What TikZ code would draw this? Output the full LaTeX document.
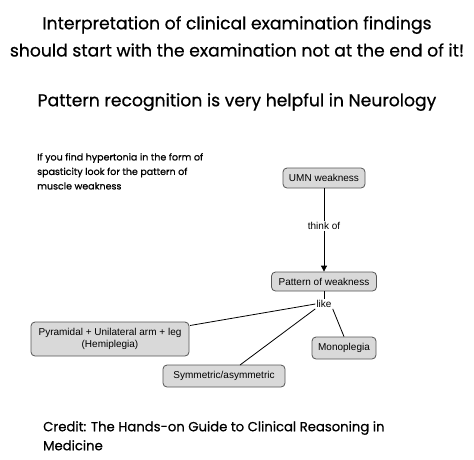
\documentclass[tikz,border=0pt]{standalone}
\usepackage{fontspec}
\setmainfont{Poppins}
\newfontfamily\hel{Liberation Sans}
\newfontfamily\popm[FakeBold=0.6]{Poppins}
\usetikzlibrary{arrows.meta}
\definecolor{boxfill}{HTML}{D9D9D9}
\definecolor{boxline}{HTML}{555555}
\begin{document}
\begin{tikzpicture}[x=1pt,y=-1pt,
  cbox/.style={draw=boxline, fill=boxfill, rounded corners=4pt, line width=0.8pt, font=\hel\fontsize{10}{12}\selectfont, inner sep=0pt, align=center},
  lbl/.style={font=\hel\fontsize{10}{12}\selectfont, fill=white, inner sep=1pt},
  title/.style={font=\popm\fontsize{17.2}{20}\selectfont},
  conn/.style={line width=0.8pt, black}]
\useasboundingbox (0,0) rectangle (474,459);
\fill[white] (0,0) rectangle (474,459);
\node[title] (t1) at (237,25) {Interpretation of clinical examination findings};
\node[title] (t2) at (237,50) {should start with the examination not at the end of it!};
\node[title] (t3) at (237,102) {Pattern recognition is very helpful in Neurology};
\node[anchor=north west, align=left, inner sep=0pt, font=\popm\fontsize{9.5}{14.5}\selectfont] (note) at (37,153) {If you find hypertonia in the form of\\ spasticity look for the pattern of\\ muscle weakness};
\node[anchor=north west, align=left, inner sep=0pt, font=\popm\fontsize{13.2}{19}\selectfont] (credit) at (43,421) {Credit: The Hands-on Guide to Clinical Reasoning in\\ Medicine};
\node[cbox, minimum width=82pt, minimum height=20pt] (umn) at (324,178) {UMN weakness};
\node[cbox, minimum width=105pt, minimum height=19pt] (pat) at (324,281.5) {Pattern of weakness};
\node[cbox, minimum width=158pt, minimum height=34pt] (pyr) at (110,339) {Pyramidal + Unilateral arm + leg\\ (Hemiplegia)};
\node[cbox, minimum width=64pt, minimum height=22pt] (mono) at (344,348) {Monoplegia};
\node[cbox, minimum width=122pt, minimum height=22pt] (sym) at (224,376) {Symmetric/asymmetric};
\node[lbl] (think) at (324,226) {think of};
\node[lbl] (like) at (324,304) {like};
\draw[conn] (umn) -- (think);
\draw[conn, -{Triangle[length=6pt,width=6pt]}] (think) -- (pat);
\draw[conn] (pat) -- (like);
\coordinate (pe) at (190,325.5);
\coordinate (se) at (240,365);
\draw[conn] (like.west) -- (pe);
\draw[conn] (like.south west) -- (se);
\draw[conn] (like.south east) -- (mono.north);
\end{tikzpicture}
\end{document}
